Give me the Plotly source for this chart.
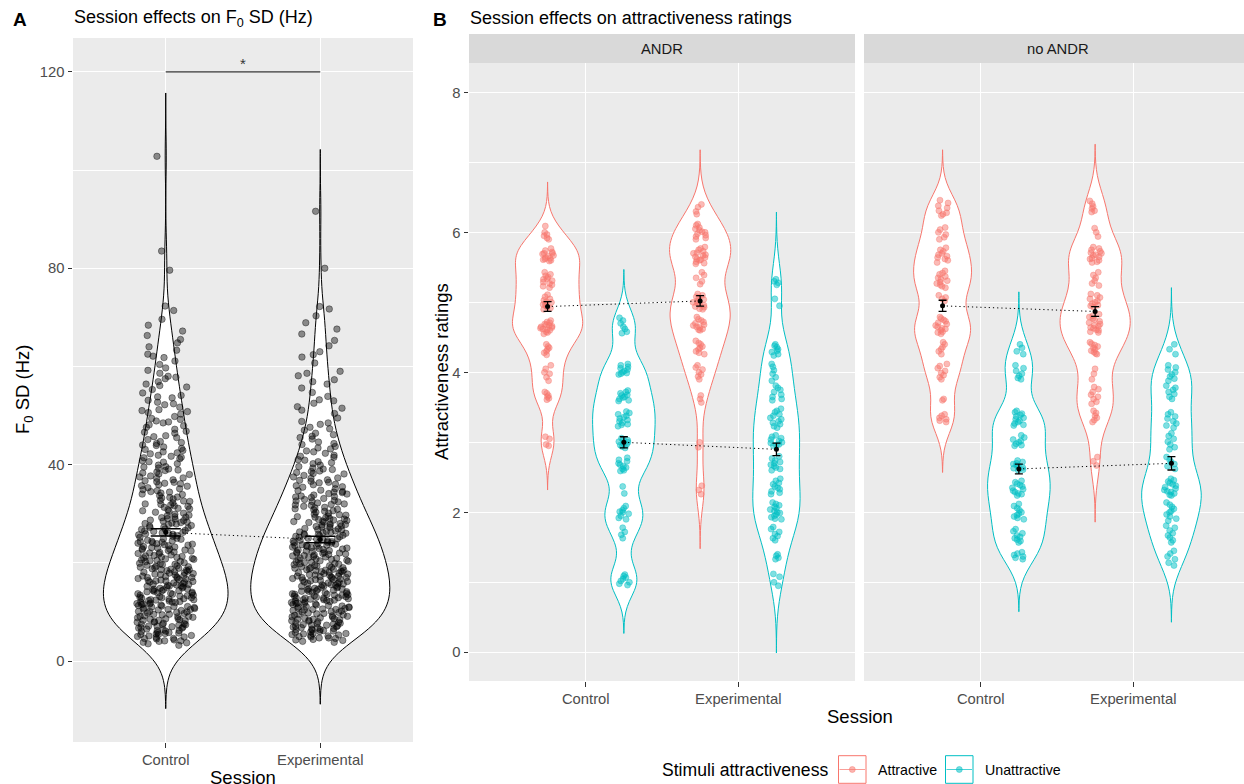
import numpy as np
import plotly.graph_objects as go

W, H = 1244, 784
FONT = "Liberation Sans, Arial, sans-serif"

# ---------------- Panel A: F0 SD (Hz) per recording ----------------
sessions = ["Control", "Experimental"]
session_pos = [1, 2]

f0_control = [
    3.2, 3.5, 3.7, 3.8, 4.0, 4.1, 4.1, 4.3, 4.5, 4.6, 4.6, 4.8, 4.9, 5.0,
    5.1, 5.2, 5.4, 5.4, 5.5, 5.7, 5.8, 5.8, 6.0, 6.1, 6.2, 6.2, 6.4, 6.5, 6.7, 6.7,
    6.8, 7.0, 7.1, 7.1, 7.3, 7.4, 7.4, 7.6, 7.7, 7.9, 7.9, 8.0, 8.2, 8.3, 8.3, 8.5,
    8.6, 8.6, 8.8, 8.9, 9.1, 9.1, 9.2, 9.4, 9.5, 9.5, 9.7, 9.8, 9.9, 5.6, 6.9, 7.5, 8.4, 9.0,
    10.0, 10.1, 10.1, 10.3, 10.4, 10.5, 10.5, 10.7, 10.8, 10.9, 11.0, 11.1, 11.1, 11.3,
    11.4, 11.5, 11.6, 11.6, 11.8, 11.9, 12.0, 12.0, 12.2, 12.3, 12.4, 12.5, 12.5, 12.7,
    12.8, 12.9, 12.9, 13.1, 13.2, 13.3, 13.4, 13.4, 13.6, 13.7, 13.8, 13.8, 14.0, 14.1,
    14.2, 14.3, 14.3, 14.5, 14.6, 14.7, 14.8, 14.9, 10.6, 11.2, 11.7, 12.1, 12.6, 13.0, 13.9, 14.4,
    15.0, 15.1, 15.3, 15.3, 15.4, 15.6, 15.7, 15.8, 15.9, 16.0, 16.2, 16.3, 16.3, 16.5,
    16.6, 16.7, 16.9, 17.0, 17.0, 17.2, 17.3, 17.4, 17.5, 17.7, 17.8, 17.9, 18.0, 18.1,
    18.3, 18.4, 18.5, 18.6, 18.8, 18.9, 19.0, 19.1, 19.2, 19.4, 19.5, 19.6, 19.8, 19.9,
    15.5, 16.1, 16.8, 17.6, 18.2, 18.7, 19.3, 15.2, 16.4, 17.1, 18.6, 19.7,
    20.0, 20.2, 20.3, 20.5, 20.7, 20.8, 21.0, 21.1, 21.3, 21.4, 21.6, 21.8, 21.9, 22.1,
    22.2, 22.4, 22.6, 22.7, 22.9, 23.0, 23.2, 23.3, 23.5, 23.7, 23.8, 24.0, 24.1, 24.3,
    24.5, 24.6, 24.8, 24.9, 20.4, 20.9, 21.5, 22.0, 22.5, 23.1, 23.6, 24.2, 21.2, 22.8,
    23.9, 24.4, 20.6,
    25.0, 25.2, 25.4, 25.5, 25.7, 25.9, 26.1, 26.2, 26.4, 26.6, 26.8, 26.9, 27.1, 27.3,
    27.5, 27.6, 27.8, 28.0, 28.2, 28.3, 28.5, 28.7, 28.9, 29.0, 29.2, 29.4, 29.6, 29.7,
    29.9, 25.8, 26.5, 27.2, 27.9, 28.6, 29.3, 26.0, 28.1,
    30.1, 30.3, 30.6, 30.8, 31.0, 31.3, 31.5, 31.8, 32.0, 32.2, 32.5, 32.7, 33.0, 33.2,
    33.4, 33.7, 33.9, 34.2, 34.4, 34.7, 34.9, 30.5, 31.1, 31.9, 32.6, 33.3, 34.0, 34.5, 31.6,
    35.1, 35.3, 35.6, 35.9, 36.1, 36.4, 36.7, 36.9, 37.2, 37.5, 37.7, 38.0, 38.3, 38.5,
    38.8, 39.1, 39.3, 39.6, 39.9, 35.7, 36.5, 37.3, 38.1, 38.9, 39.5, 36.2,
    40.2, 40.5, 40.8, 41.2, 41.5, 41.9, 42.2, 42.6, 42.9, 43.3, 43.6, 44.0, 44.3, 44.7,
    40.6, 41.4, 42.4, 43.1, 43.9, 44.5, 41.7,
    45.1, 45.5, 45.9, 46.4, 46.8, 47.2, 47.6, 48.1, 48.5, 48.9, 49.4, 49.8, 45.7, 46.6, 47.9, 48.7, 49.2,
    50.3, 50.8, 51.2, 51.7, 52.2, 52.7, 53.1, 53.6, 54.1, 54.6, 51.0, 52.4, 53.8, 50.6,
    55.3, 55.8, 56.4, 56.9, 57.5, 58.0, 58.6, 59.2, 59.7, 56.1, 57.8,
    60.4, 61.1, 61.8, 62.5, 63.3, 64.0, 64.8, 62.1,
    65.5, 66.3, 67.2, 68.4, 69.6,
    71.4, 72.3, 79.6, 83.5, 102.8,
]

f0_experimental = [
    3.8, 4.0, 4.2, 4.3, 4.4, 4.6, 4.7, 4.7, 4.9, 5.0,
    5.1, 5.2, 5.3, 5.5, 5.6, 5.6, 5.8, 5.9, 6.0, 6.1, 6.2, 6.4, 6.4, 6.5, 6.7, 6.8,
    6.9, 7.0, 7.1, 7.3, 7.3, 7.4, 7.6, 7.7, 7.8, 7.9, 8.0, 8.1, 8.2, 8.4, 8.5, 8.5,
    8.7, 8.8, 8.9, 9.0, 9.1, 9.3, 9.4, 9.5, 9.6, 9.7, 9.9, 5.4, 6.3, 7.2, 8.3, 9.2,
    6.6, 7.5, 8.6, 9.8,
    10.0, 10.1, 10.3, 10.4, 10.5, 10.6, 10.7, 10.9, 11.0, 11.1, 11.2, 11.3, 11.5, 11.6,
    11.7, 11.8, 11.9, 12.0, 12.1, 12.3, 12.4, 12.5, 12.6, 12.7, 12.8, 12.9, 13.0, 13.2,
    13.3, 13.4, 13.5, 13.6, 13.7, 13.9, 14.0, 14.1, 14.2, 14.3, 14.5, 14.6, 14.7, 14.8,
    14.9, 10.2, 10.8, 11.4, 12.2, 12.8, 13.1, 13.8, 14.4, 10.5, 11.7, 12.5, 13.6, 14.2,
    11.0, 12.9, 13.4, 14.7,
    15.0, 15.2, 15.3, 15.4, 15.6, 15.7, 15.8, 16.0, 16.1, 16.2, 16.4, 16.5, 16.6, 16.8,
    16.9, 17.0, 17.2, 17.3, 17.4, 17.6, 17.7, 17.8, 18.0, 18.1, 18.2, 18.4, 18.5, 18.6,
    18.8, 18.9, 19.0, 19.2, 19.3, 19.4, 19.6, 19.7, 19.8, 15.1, 15.9, 16.3, 16.7, 17.1,
    17.5, 17.9, 18.3, 18.7, 19.1, 19.5, 19.9, 15.5, 16.6, 17.3, 18.2, 19.0, 15.8, 17.0, 18.5,
    20.0, 20.2, 20.3, 20.5, 20.6, 20.8, 20.9, 21.1, 21.2, 21.4, 21.5, 21.7, 21.8, 22.0,
    22.1, 22.3, 22.4, 22.6, 22.7, 22.9, 23.0, 23.2, 23.3, 23.5, 23.6, 23.8, 23.9, 24.1,
    24.2, 24.4, 24.5, 24.7, 24.8, 20.4, 21.0, 21.6, 22.2, 22.8, 23.4, 24.0, 24.6, 20.7,
    21.3, 21.9, 22.5, 23.1, 23.7, 24.3, 24.9, 20.1, 22.0, 23.5,
    25.0, 25.2, 25.4, 25.5, 25.7, 25.9, 26.0, 26.2, 26.4, 26.5, 26.7, 26.9, 27.0, 27.2,
    27.4, 27.5, 27.7, 27.9, 28.0, 28.2, 28.4, 28.5, 28.7, 28.9, 29.0, 29.2, 29.4, 29.5,
    29.7, 29.9, 25.3, 25.8, 26.3, 26.8, 27.3, 27.8, 28.3, 28.8, 29.3, 29.8, 26.1, 27.6,
    28.6, 25.6,
    30.1, 30.3, 30.5, 30.8, 31.0, 31.2, 31.5, 31.7, 31.9, 32.2, 32.4, 32.6, 32.9, 33.1,
    33.3, 33.6, 33.8, 34.0, 34.3, 34.5, 34.7, 30.6, 31.3, 32.0, 32.7, 33.4, 34.1, 34.8,
    30.9, 31.8, 32.5, 33.5, 34.4,
    35.1, 35.4, 35.7, 36.0, 36.3, 36.6, 36.9, 37.2, 37.5, 37.8, 38.1, 38.4, 38.7, 39.0,
    39.3, 39.6, 39.9, 35.5, 36.4, 37.3, 38.2, 39.1, 36.8, 38.6, 35.9,
    40.2, 40.6, 41.0, 41.5, 41.9, 42.3, 42.8, 43.2, 43.7, 44.1, 44.6, 40.9, 41.7, 42.6, 43.4, 44.3, 40.4,
    45.2, 45.8, 46.4, 47.0, 47.6, 48.2, 48.8, 49.5, 46.1, 47.3, 48.5, 45.5,
    50.4, 51.1, 51.8, 52.5, 53.2, 53.9, 54.7, 51.5, 53.0,
    55.6, 56.4, 57.3, 58.1, 59.0, 56.9, 58.6,
    60.7, 61.9, 63.0, 64.2, 62.4,
    65.3, 66.6, 67.6, 68.9,
    70.3, 71.7, 72.2, 80.0, 91.6,
]

f0_mean = [26.2, 24.75]
f0_se = [0.72, 0.68]
f0_signif_y = 120
f0_signif_label = "*"

# ---------------- Panel B: attractiveness ratings ----------------
facet_labels = ["ANDR", "no ANDR"]
stimulus_labels = ["Attractive", "Unattractive"]

andr_control_attractive = [
    6.09, 6.0, 5.97, 5.95, 5.92, 5.9,
    5.77, 5.74, 5.72, 5.7, 5.69, 5.67, 5.66, 5.64, 5.63, 5.62, 5.61, 5.6, 5.59, 5.7,
    5.43, 5.4, 5.38, 5.36, 5.34, 5.33, 5.31, 5.29, 5.27, 5.25, 5.23, 5.21,
    5.11, 5.08, 5.05, 5.03, 5.01, 5.0, 4.98, 4.97, 4.95, 4.93, 4.92, 4.9,
    4.74, 4.72, 4.71, 4.69, 4.68, 4.66, 4.65, 4.64, 4.62, 4.61, 4.6, 4.58, 4.57, 4.55, 4.67, 4.63,
    4.4, 4.37, 4.35, 4.33, 4.3, 4.28, 4.25,
    4.1, 4.05, 4.0, 3.98, 3.93, 3.88,
    3.72, 3.7, 3.67, 3.65, 3.63, 3.61,
    3.08, 3.05, 2.97, 2.95,
]
andr_control_unattractive = [
    4.78, 4.74, 4.7, 4.65, 4.62, 4.58, 4.56,
    4.12, 4.1, 4.08, 4.06, 4.04, 4.02, 4.0, 3.99, 3.98, 3.97,
    3.74, 3.72, 3.7, 3.68, 3.67, 3.65, 3.64, 3.62, 3.6, 3.59,
    3.44, 3.42, 3.4, 3.38, 3.36, 3.34, 3.32, 3.3, 3.28, 3.26, 3.25, 3.23,
    3.06, 3.04, 3.03, 3.01, 3.0, 2.99, 2.97, 2.96, 2.94, 2.92,
    2.78, 2.75, 2.73, 2.7, 2.68, 2.66, 2.64, 2.62, 2.6, 2.59,
    2.37, 2.27,
    2.09, 2.06, 2.03, 2.01, 2.0, 1.98, 1.95, 1.92, 1.9,
    1.78, 1.72, 1.68, 1.63,
    1.11, 1.09, 1.07, 1.05, 1.02, 1.0, 0.98, 0.96,
]
andr_experimental_attractive = [
    6.4, 6.36, 6.3, 6.26,
    6.12, 6.1, 6.07, 6.05, 6.03, 6.01, 6.0, 5.98, 5.96, 5.94, 5.92, 5.9,
    5.79, 5.77, 5.75, 5.73, 5.71, 5.7, 5.68, 5.67, 5.65, 5.64, 5.62, 5.61, 5.6, 5.58, 5.56, 5.55,
    5.43, 5.39, 5.35, 5.3, 5.26,
    5.12, 5.1, 5.08, 5.06, 5.04, 5.02, 5.0, 4.99, 4.97, 4.96, 4.94, 4.93, 4.91, 4.9,
    4.79, 4.76, 4.74, 4.72, 4.7, 4.68, 4.67, 4.65, 4.64, 4.62, 4.61, 4.6,
    4.45, 4.42, 4.4, 4.37, 4.35, 4.33, 4.3, 4.28, 4.26,
    4.1, 4.07, 4.04, 4.0, 3.97, 3.94, 3.9,
    3.67, 3.62, 3.57,
    3.0, 2.93,
    2.38, 2.32, 2.26,
]
andr_experimental_unattractive = [
    5.33, 5.3, 5.28, 5.25, 5.05, 4.95,
    4.4, 4.38, 4.36, 4.33, 4.31, 4.29, 4.26, 4.24,
    4.12, 4.08, 4.03, 3.98, 3.93, 3.88,
    3.81, 3.78, 3.75, 3.72, 3.68, 3.65, 3.62, 3.6,
    3.48, 3.45, 3.43, 3.4, 3.38, 3.35, 3.33, 3.3, 3.28, 3.26, 3.23, 3.21,
    3.1, 3.08, 3.06, 3.04, 3.02, 3.0, 2.99, 2.97, 2.96, 2.95,
    2.8, 2.77, 2.74, 2.72, 2.7, 2.68, 2.66, 2.64, 2.62, 2.6,
    2.48, 2.45, 2.42, 2.4, 2.37, 2.35, 2.33, 2.3, 2.28, 2.26,
    2.14, 2.12, 2.1, 2.08, 2.06, 2.04, 2.02, 2.0, 1.99, 1.97, 1.95, 1.93, 1.91, 1.9,
    1.79, 1.76, 1.72, 1.69, 1.66, 1.63, 1.6,
    1.4, 1.38, 1.35, 1.33,
    1.12, 1.08, 1.0, 0.95,
]
noandr_control_attractive = [
    6.46, 6.42, 6.38, 6.35, 6.31, 6.28, 6.26, 6.24,
    6.07, 6.04, 6.0, 5.97, 5.93, 5.9,
    5.78, 5.75, 5.73, 5.7, 5.68, 5.66, 5.64, 5.62, 5.6, 5.57,
    5.45, 5.42, 5.4, 5.37, 5.35, 5.33, 5.31, 5.29, 5.27, 5.25, 5.23, 5.21,
    5.1, 5.07, 5.05, 5.02,
    4.79, 4.77, 4.75, 4.73, 4.71, 4.69, 4.67, 4.65, 4.63, 4.62, 4.6, 4.58, 4.57, 4.55,
    4.43, 4.4, 4.36, 4.33, 4.3, 4.26,
    4.12, 4.09, 4.06, 4.02, 3.99, 3.96, 3.93, 3.9,
    3.62, 3.6,
    3.4, 3.38, 3.35, 3.33, 3.31, 3.29,
]
noandr_control_unattractive = [
    4.4, 4.35, 4.3, 4.26,
    4.1, 4.06, 4.02, 3.98, 3.95, 3.92, 3.9,
    3.45, 3.43, 3.41, 3.39, 3.37, 3.35, 3.33, 3.31, 3.29, 3.27, 3.25, 3.24,
    3.1, 3.07, 3.04, 3.02, 3.0, 2.98, 2.96, 2.95,
    2.74, 2.72, 2.7, 2.69, 2.67, 2.66, 2.64, 2.63, 2.61, 2.6,
    2.45, 2.43, 2.41, 2.39, 2.37, 2.35, 2.33, 2.31, 2.29, 2.27, 2.26, 2.24,
    2.12, 2.09, 2.06, 2.03, 2.0, 1.98, 1.96, 1.94, 1.92, 1.9,
    1.76, 1.73, 1.7, 1.67, 1.65, 1.63, 1.61, 1.59, 1.57,
    1.43, 1.41, 1.39, 1.37, 1.35, 1.33,
]
noandr_experimental_attractive = [
    6.45, 6.41, 6.37, 6.34, 6.31, 6.29,
    6.06, 6.0, 5.94,
    5.79, 5.77, 5.75, 5.73, 5.71, 5.7, 5.68, 5.67, 5.65, 5.63, 5.62, 5.6, 5.58, 5.57,
    5.43, 5.39, 5.35, 5.31, 5.27, 5.24,
    5.12, 5.1, 5.07, 5.05, 5.02, 5.0, 4.98, 4.96, 4.95, 4.93,
    4.83, 4.81, 4.79, 4.77, 4.75, 4.73, 4.71, 4.69, 4.67, 4.66, 4.64, 4.63, 4.61, 4.6, 4.58, 4.57,
    4.43, 4.41, 4.39, 4.37, 4.35, 4.33, 4.31, 4.29, 4.27, 4.26,
    4.05, 3.98, 3.9,
    3.79, 3.76, 3.72, 3.68, 3.65, 3.62, 3.58, 3.55,
    3.45, 3.42, 3.38, 3.35, 3.32, 3.29,
    2.79, 2.73, 2.67,
]
noandr_experimental_unattractive = [
    4.4, 4.33, 4.26,
    4.1, 4.07, 4.04, 4.0, 3.97, 3.94, 3.91, 3.88,
    3.81, 3.78, 3.75, 3.72, 3.69, 3.65, 3.62,
    3.43, 3.4, 3.37, 3.34, 3.3, 3.27, 3.24, 3.21,
    3.13, 3.09, 3.05, 3.01, 2.97, 2.93, 2.9,
    2.79, 2.75, 2.72, 2.69, 2.66, 2.62,
    2.48, 2.46, 2.44, 2.42, 2.4, 2.38, 2.36, 2.34, 2.32, 2.3, 2.29, 2.27, 2.25, 2.24,
    2.14, 2.11, 2.08, 2.05, 2.02, 2.0, 1.97, 1.94, 1.91, 1.88,
    1.81, 1.78, 1.74, 1.7, 1.67, 1.64, 1.6, 1.57,
    1.45, 1.41, 1.37, 1.33, 1.28, 1.24,
]

# session means and standard errors (Control, Experimental)
andr_attractive_mean = [4.94, 5.02]
andr_attractive_se = [0.07, 0.075]
andr_unattractive_mean = [3.0, 2.9]
andr_unattractive_se = [0.08, 0.09]
noandr_attractive_mean = [4.95, 4.87]
noandr_attractive_se = [0.08, 0.07]
noandr_unattractive_mean = [2.62, 2.70]
noandr_unattractive_se = [0.07, 0.095]

# ---------------- styling ----------------
ATTR = "#F8766D"
UNATTR = "#00BFC4"
PANEL_BG = "#EBEBEB"
STRIP_BG = "#D9D9D9"
TICK_TXT = "#4D4D4D"
TICK_COL = "#333333"
CLEAR = "rgba(0,0,0,0)"


def rgba(hex_color, a):
    h = hex_color.lstrip("#")
    r, g, b = int(h[0:2], 16), int(h[2:4], 16), int(h[4:6], 16)
    return f"rgba({r},{g},{b},{a})"


def px(x):
    return x / W


def py(y):
    return 1 - y / H


# panel geometry (pixels)
A_X0, A_X1, A_Y0, A_Y1 = 73, 413, 38, 742
B_Y0, B_Y1, STRIP_Y0 = 63, 681, 34
B1_X0, B1_X1 = 469, 855
B2_X0, B2_X1 = 864, 1244
A_XRANGE = [0.4, 2.6]
B_XRANGE = [0.235, 2.765]
B_UNIT = (B1_X1 - B1_X0) / (B_XRANGE[1] - B_XRANGE[0])
A_UNIT = (A_X1 - A_X0) / (A_XRANGE[1] - A_XRANGE[0])
B2_XRANGE = [B_XRANGE[0], B_XRANGE[0] + (B2_X1 - B2_X0) / B_UNIT]

fig = go.Figure()


def violin_outline(values, pos, width, bw, line_color, xa, ya, name, with_points=None):
    """Untrimmed gaussian-kernel violin: tails run 3 bandwidths past the data."""
    kw = dict(points=False)
    if with_points:
        kw = with_points
    fig.add_trace(go.Violin(
        y=values, x0=pos, width=width, name=name,
        bandwidth=bw, spanmode="manual",
        span=[min(values) - 3 * bw, max(values) + 3 * bw],
        scalemode="width", scalegroup=name,
        line=dict(color=line_color, width=1), fillcolor="white",
        box_visible=False, meanline_visible=False,
        xaxis=xa, yaxis=ya, showlegend=False, hoverinfo="skip", **kw,
    ))


def point_kw(width, unit, jitter_px, msize, color, edge):
    half_px = width / 2 * unit
    return dict(points="all", pointpos=0, jitter=min(1.0, jitter_px / half_px),
                marker=dict(size=msize, color=color, line=dict(width=0.7, color=edge)))


def jittered_points(values, pos, width, unit, jitter_px, msize, color, edge, xa, ya, name):
    """Points only (no visible body) so each value band gets its own even jitter spread."""
    fig.add_trace(go.Violin(
        y=values, x0=pos, width=width, name=name,
        line=dict(color=CLEAR, width=0), fillcolor=CLEAR,
        box_visible=False, meanline_visible=False,
        xaxis=xa, yaxis=ya, showlegend=False, hoverinfo="skip",
        **point_kw(width, unit, jitter_px, msize, color, edge),
    ))


# Panel A violins (bodies first, then the jittered recordings on top)
A_WIDTHS = [0.805, 0.90]
A_BW = [4.3, 4.2]
A_BANDS = [0, 35, 50, 65, 1000]
for k, vals in enumerate([f0_control, f0_experimental]):
    violin_outline(vals, session_pos[k], A_WIDTHS[k], A_BW[k], "black", "x", "y", f"A_body_{k}")
for k, vals in enumerate([f0_control, f0_experimental]):
    arr = np.asarray(vals)
    for b in range(len(A_BANDS) - 1):
        sub = arr[(arr >= A_BANDS[b]) & (arr < A_BANDS[b + 1])].tolist()
        jittered_points(sub, session_pos[k], A_WIDTHS[k], A_UNIT, 29, 6.5,
                        "rgba(0,0,0,0.42)", "rgba(0,0,0,0.55)", "x", "y", f"A_pts_{k}_{b}")

# Panel B violins: (x axis, y axis, control data, experimental data, colour, dodge,
#                   violin widths, kernel bandwidths, id)
B_OFFSET = 0.25
b_groups = [
    ("x2", "y2", andr_control_attractive, andr_experimental_attractive, ATTR, -B_OFFSET,
     [0.46, 0.40], [0.21, 0.26], "andr_a"),
    ("x2", "y2", andr_control_unattractive, andr_experimental_unattractive, UNATTR, B_OFFSET,
     [0.41, 0.31], [0.23, 0.32], "andr_u"),
    ("x3", "y3", noandr_control_attractive, noandr_experimental_attractive, ATTR, -B_OFFSET,
     [0.38, 0.46], [0.24, 0.27], "no_a"),
    ("x3", "y3", noandr_control_unattractive, noandr_experimental_unattractive, UNATTR, B_OFFSET,
     [0.41, 0.39], [0.25, 0.27], "no_u"),
]
for xa, ya, ctrl, expt, col, off, widths, bws, key in b_groups:
    for k, vals in enumerate([ctrl, expt]):
        violin_outline(vals, session_pos[k] + off, widths[k], bws[k], col, xa, ya, f"{key}_{k}",
                       with_points=point_kw(widths[k], B_UNIT, 7.6, 6,
                                            rgba(col, 0.5), rgba(col, 0.55)))

# Panel A: dotted connector, mean +/- SE, significance bracket
fig.add_trace(go.Scatter(x=session_pos, y=f0_mean, mode="lines",
                         line=dict(color="black", width=1, dash="1.2px,3px"),
                         xaxis="x", yaxis="y", showlegend=False, hoverinfo="skip"))
fig.add_trace(go.Scatter(x=session_pos, y=f0_mean, mode="markers",
                         marker=dict(size=5, color="black"),
                         error_y=dict(type="data", array=f0_se, color="black", thickness=1.5, width=15),
                         xaxis="x", yaxis="y", showlegend=False, hoverinfo="skip"))
fig.add_trace(go.Scatter(x=session_pos, y=[f0_signif_y, f0_signif_y], mode="lines",
                         line=dict(color="#333333", width=1.3),
                         xaxis="x", yaxis="y", showlegend=False, hoverinfo="skip"))

# Panel B: dotted connectors and mean +/- SE
b_means = [
    ("x2", "y2", -B_OFFSET, andr_attractive_mean, andr_attractive_se),
    ("x2", "y2", B_OFFSET, andr_unattractive_mean, andr_unattractive_se),
    ("x3", "y3", -B_OFFSET, noandr_attractive_mean, noandr_attractive_se),
    ("x3", "y3", B_OFFSET, noandr_unattractive_mean, noandr_unattractive_se),
]
for xa, ya, off, m, se in b_means:
    xs = [p + off for p in session_pos]
    fig.add_trace(go.Scatter(x=xs, y=m, mode="lines",
                             line=dict(color="black", width=1, dash="1.2px,3px"),
                             xaxis=xa, yaxis=ya, showlegend=False, hoverinfo="skip"))
    fig.add_trace(go.Scatter(x=xs, y=m, mode="markers",
                             marker=dict(size=5, color="black"),
                             error_y=dict(type="data", array=se, color="black", thickness=1.3, width=4),
                             xaxis=xa, yaxis=ya, showlegend=False, hoverinfo="skip"))

tickfont = dict(size=14.8, color=TICK_TXT, family=FONT)
common_x = dict(tickvals=session_pos, ticktext=sessions, showgrid=True, gridcolor="white",
                gridwidth=1.1, ticks="outside", ticklen=4.5, tickwidth=1, tickcolor=TICK_COL,
                tickfont=tickfont, zeroline=False, showline=False, fixedrange=True)
common_y = dict(showgrid=True, gridcolor="white", gridwidth=1.1, ticklen=4.5,
                tickwidth=1, tickcolor=TICK_COL, tickfont=tickfont, zeroline=False,
                showline=False, fixedrange=True)
minor_a = dict(tickvals=[20, 60, 100], showgrid=True, gridcolor="white", gridwidth=0.55)
minor_b = dict(tickvals=[1, 3, 5, 7], showgrid=True, gridcolor="white", gridwidth=0.55)

fig.update_layout(
    width=W, height=H,
    margin=dict(l=0, r=0, t=0, b=0),
    paper_bgcolor="white", plot_bgcolor=PANEL_BG,
    font=dict(family=FONT, color="black"),
    violinmode="overlay",
    showlegend=False,
    xaxis=dict(domain=[px(A_X0), px(A_X1)], range=A_XRANGE, anchor="y", **common_x),
    yaxis=dict(domain=[py(A_Y1), py(A_Y0)], range=[-16.5, 126.9], anchor="x",
               tickvals=[0, 40, 80, 120], ticks="outside", minor=minor_a, **common_y),
    xaxis2=dict(domain=[px(B1_X0), px(B1_X1)], range=B_XRANGE, anchor="y2", **common_x),
    yaxis2=dict(domain=[py(B_Y1), py(B_Y0)], range=[-0.41, 8.42], anchor="x2",
                tickvals=[0, 2, 4, 6, 8], ticks="outside", minor=minor_b, **common_y),
    xaxis3=dict(domain=[px(B2_X0), 1.0], range=B2_XRANGE, anchor="y3", **common_x),
    yaxis3=dict(domain=[py(B_Y1), py(B_Y0)], range=[-0.41, 8.42], anchor="x3",
                tickvals=[0, 2, 4, 6, 8], ticks="", showticklabels=False,
                minor=minor_b, **common_y),
)

shapes = []
# facet strips
for x0, x1 in [(B1_X0, B1_X1), (B2_X0, B2_X1)]:
    shapes.append(dict(type="rect", xref="paper", yref="paper", x0=px(x0), x1=px(x1),
                       y0=py(B_Y0), y1=py(STRIP_Y0), fillcolor=STRIP_BG, line=dict(width=0),
                       layer="below"))

annotations = []


def text(x, y, s, size, color="black", xanchor="center", yanchor="middle", angle=0):
    annotations.append(dict(x=px(x), y=py(y), xref="paper", yref="paper", text=s,
                            showarrow=False, xanchor=xanchor, yanchor=yanchor,
                            textangle=angle, font=dict(size=size, color=color, family=FONT)))


# strip labels
text((B1_X0 + B1_X1) / 2, (STRIP_Y0 + B_Y0) / 2, facet_labels[0], 14.8, "#1A1A1A")
text((B2_X0 + 1251) / 2, (STRIP_Y0 + B_Y0) / 2, facet_labels[1], 14.8, "#1A1A1A")

# panel tags and titles
text(11, 19, "<b>A</b>", 19, xanchor="left")
text(431, 19, "<b>B</b>", 19, xanchor="left")
text(72, 18, "Session effects on F<sub>0</sub> SD (Hz)", 18, xanchor="left")
text(468, 18, "Session effects on attractiveness ratings", 18, xanchor="left")

# axis titles
text(24, (A_Y0 + A_Y1) / 2, "F<sub>0</sub> SD (Hz)", 18.5, angle=-90)
text((A_X0 + A_X1) / 2, 777, "Session", 18.5)
text(441, (B_Y0 + B_Y1) / 2, "Attractiveness ratings", 18.5, angle=-90)
text((B1_X0 + 1251) / 2, 716, "Session", 18.5)

# significance label
annotations.append(dict(x=1.5, y=f0_signif_y, xref="x", yref="y", text=f0_signif_label,
                        showarrow=False, yanchor="bottom", yshift=-2,
                        font=dict(size=15, color="#333333", family=FONT)))

# legend for stimulus attractiveness
LEG_Y = 769.5
text(660, LEG_Y, "Stimuli attractiveness", 17.6, xanchor="left")
for (kx, label, col) in [(838.5, stimulus_labels[0], ATTR), (945.5, stimulus_labels[1], UNATTR)]:
    shapes.append(dict(type="rect", xref="paper", yref="paper", x0=px(kx), x1=px(kx + 27.5),
                       y0=py(LEG_Y + 13.8), y1=py(LEG_Y - 13.8), fillcolor="white",
                       line=dict(color=col, width=1)))
    shapes.append(dict(type="line", xref="paper", yref="paper", x0=px(kx + 1), x1=px(kx + 26.5),
                       y0=py(LEG_Y), y1=py(LEG_Y), line=dict(color=rgba(col, 0.7), width=1)))
    shapes.append(dict(type="circle", xref="paper", yref="paper", x0=px(kx + 10.8), x1=px(kx + 16.8),
                       y0=py(LEG_Y + 3), y1=py(LEG_Y - 3), fillcolor=rgba(col, 0.55),
                       line=dict(color=rgba(col, 0.6), width=0.7)))
    text(kx + 37.5, LEG_Y, label, 14.2, xanchor="left")

fig.update_layout(shapes=shapes, annotations=annotations)
fig.write_html("out.html")
